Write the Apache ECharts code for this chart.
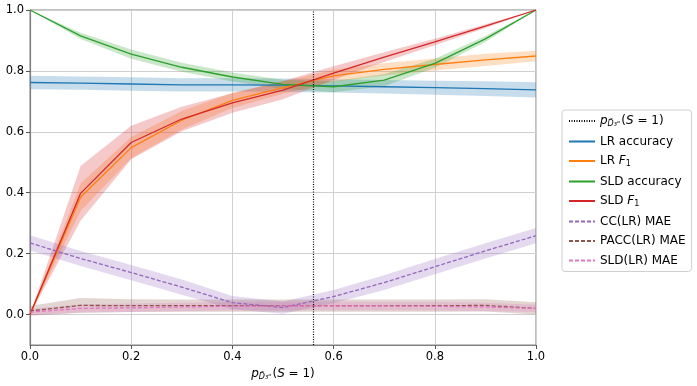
<!DOCTYPE html>
<html>
<head>
<meta charset="utf-8">
<script src="https://cdn.jsdelivr.net/npm/echarts@6/dist/echarts.min.js"></script>
<style>
  html, body { margin: 0; padding: 0; background: #fff; }
  #chart { width: 697px; height: 386px; }
</style>
</head>
<body>
<div id="chart"></div>
<script>
// prevalence grid on x
const xs = [0, 0.1, 0.2, 0.3, 0.4, 0.5, 0.6, 0.7, 0.8, 0.9, 1.0]
const trainPrev = 0.563

// mean values
const lrAcc   = [0.762, 0.760, 0.757, 0.754, 0.754, 0.753, 0.751, 0.748, 0.745, 0.742, 0.738]
const lrF1    = [0.0, 0.385, 0.548, 0.638, 0.703, 0.745, 0.784, 0.805, 0.821, 0.836, 0.849]
const sldAcc  = [1.0, 0.915, 0.855, 0.812, 0.780, 0.756, 0.748, 0.770, 0.825, 0.905, 1.0]
const sldF1   = [0.0, 0.398, 0.565, 0.642, 0.695, 0.737, 0.793, 0.845, 0.895, 0.947, 1.0]
const ccMae   = [0.235, 0.184, 0.138, 0.090, 0.039, 0.023, 0.059, 0.105, 0.157, 0.209, 0.259]
const paccMae = [0.012, 0.030, 0.029, 0.029, 0.029, 0.029, 0.029, 0.029, 0.029, 0.030, 0.020]
const sldMae  = [0.008, 0.020, 0.022, 0.025, 0.027, 0.028, 0.028, 0.028, 0.027, 0.025, 0.020]

// half width of the shaded bands
const lrAccSd   = [0.022, 0.022, 0.022, 0.022, 0.022, 0.022, 0.022, 0.022, 0.023, 0.024, 0.025]
const lrF1Sd    = [0.0, 0.045, 0.035, 0.03, 0.025, 0.02, 0.02, 0.02, 0.02, 0.02, 0.017]
const sldAccSd  = [0.0, 0.01, 0.015, 0.015, 0.015, 0.015, 0.018, 0.02, 0.015, 0.01, 0.0]
const sldF1Sd   = [0.0, 0.09, 0.055, 0.04, 0.032, 0.03, 0.022, 0.016, 0.011, 0.006, 0.0]
const ccMaeSd   = [0.025, 0.025, 0.025, 0.025, 0.022, 0.02, 0.022, 0.024, 0.025, 0.025, 0.025]
const paccMaeSd = [0.016, 0.024, 0.021, 0.02, 0.02, 0.02, 0.02, 0.02, 0.02, 0.02, 0.02]
const sldMaeSd  = [0.01, 0.014, 0.014, 0.014, 0.014, 0.014, 0.014, 0.014, 0.014, 0.014, 0.012]

const yTicks = [0, 0.2, 0.4, 0.6, 0.8, 1.0]

const curves = [
  { name: 'LR accuracy', v: lrAcc, sd: lrAccSd, color: '#1f77b4', dash: 'solid' },
  { name: 'LR F1', v: lrF1, sd: lrF1Sd, color: '#ff7f0e', dash: 'solid' },
  { name: 'SLD accuracy', v: sldAcc, sd: sldAccSd, color: '#2ca02c', dash: 'solid' },
  { name: 'SLD F1', v: sldF1, sd: sldF1Sd, color: '#d62728', dash: 'solid' },
  { name: 'CC(LR) MAE', v: ccMae, sd: ccMaeSd, color: '#9467bd', dash: [4, 2] },
  { name: 'PACC(LR) MAE', v: paccMae, sd: paccMaeSd, color: '#8c564b', dash: [4, 2] },
  { name: 'SLD(LR) MAE', v: sldMae, sd: sldMaeSd, color: '#e377c2', dash: [4, 2] }
]

const pts = arr => xs.map((x, i) => [x, arr[i]])

const series = []
// shaded bands: one polygon per curve, corners placed with api.coord
curves.forEach(c => {
  const rows = xs.map((x, i) => [x, c.v[i] - c.sd[i], c.v[i] + c.sd[i]])
  series.push({
    type: 'custom', silent: true, z: 1,
    data: rows,
    encode: { x: 0, y: [1, 2] },
    renderItem: (params, api) => {
      if (params.dataIndex !== 0) return null
      const upper = rows.map(r => api.coord([r[0], r[2]]))
      const lower = rows.map(r => api.coord([r[0], r[1]])).reverse()
      return {
        type: 'polygon',
        shape: { points: upper.concat(lower) },
        style: { fill: c.color, opacity: 0.25 }
      }
    }
  })
})
curves.forEach(c => {
  series.push({
    name: c.name, type: 'line', data: pts(c.v), symbol: 'none', z: 3,
    color: c.color,
    lineStyle: { color: c.color, width: 1.3, type: c.dash }
  })
})
// dotted vertical line at training prevalence
series.push({
  name: 'train', type: 'line', data: [], symbol: 'none', color: '#000',
  lineStyle: { color: '#000', width: 1.2, type: [1, 1.5] },
  markLine: {
    silent: true, symbol: 'none', label: { show: false },
    lineStyle: { color: '#000', width: 1.2, type: [1, 1.5] },
    data: [{ xAxis: trainPrev }]
  }
})

const pRich = {
  i: { fontStyle: 'italic', fontSize: 12, fontFamily: 'DejaVu Sans', color: '#000' },
  s: { fontStyle: 'italic', fontSize: 8, fontFamily: 'DejaVu Sans', color: '#000', padding: [6, 1, 0, 0] },
  n: { fontSize: 12, fontFamily: 'DejaVu Sans', color: '#000' }
}
const pLabel = '{i|p}{s|D̃₃ᵒ}{n|(}{i|S}{n| = 1)}'

const chart = echarts.init(document.getElementById('chart'))
chart.setOption({
  animation: false,
  textStyle: { fontFamily: 'DejaVu Sans' },
  grid: { left: 30, right: 161, top: 10, bottom: 41, show: true, borderColor: '#808080', borderWidth: 1 },
  legend: {
    orient: 'vertical', left: 562, top: 110,
    data: ['train'].concat(curves.map(c => c.name)),
    itemWidth: 26, itemHeight: 10, itemGap: 7.5,
    padding: [5, 6, 5, 6],
    borderColor: '#d0d0d0', borderWidth: 1, borderRadius: 3,
    backgroundColor: '#fff',
    itemStyle: { opacity: 0 },
    textStyle: {
      fontSize: 12, color: '#000', fontFamily: 'DejaVu Sans',
      rich: Object.assign({
        f: { fontStyle: 'italic', fontSize: 12, fontFamily: 'DejaVu Sans', color: '#000' },
        sub: { fontSize: 8, fontFamily: 'DejaVu Sans', color: '#000', padding: [6, 0, 0, 0] }
      }, pRich)
    },
    formatter: name => {
      if (name === 'train') return pLabel
      if (name.endsWith(' F1')) return name.slice(0, -2) + '{f|F}{sub|1}'
      return name
    }
  },
  xAxis: {
    type: 'value', min: 0, max: 1, interval: 0.2,
    name: pLabel, nameLocation: 'middle', nameGap: 22,
    nameTextStyle: { rich: pRich },
    axisLine: { onZero: false, lineStyle: { color: '#808080', width: 1.2 } },
    axisTick: { show: true, length: 4, lineStyle: { color: '#555' } },
    axisLabel: { color: '#000', fontSize: 11.5, margin: 6, formatter: v => v.toFixed(1) },
    splitLine: { show: true, lineStyle: { color: '#d0d0d0', width: 1 } }
  },
  yAxis: {
    type: 'value', min: -0.1, max: 1,
    axisLine: { show: true, onZero: false, lineStyle: { color: '#808080', width: 1.2 } },
    axisTick: { show: true, length: 4, lineStyle: { color: '#555' }, customValues: yTicks },
    axisLabel: { color: '#000', fontSize: 11.5, margin: 6, customValues: yTicks, formatter: v => v.toFixed(1) },
    splitLine: { show: true, lineStyle: { color: '#d0d0d0', width: 1 } }
  },
  series: series
})
</script>
</body>
</html>
